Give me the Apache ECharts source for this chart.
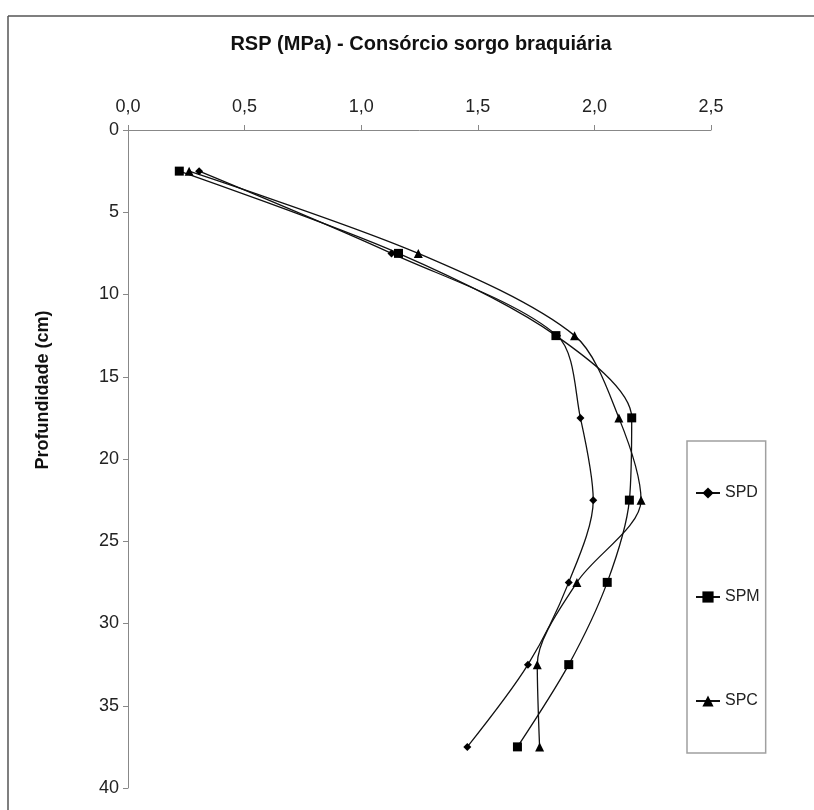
<!DOCTYPE html>
<html>
<head>
<meta charset="utf-8">
<script src="https://cdn.jsdelivr.net/npm/echarts@6/dist/echarts.min.js"></script>
<style>
  html, body { margin: 0; padding: 0; background: #fff; }
  #chart { width: 814px; height: 810px; }
</style>
</head>
<body>
<div id="chart"></div>
<script>
// profundidade (cm)
const depths = [2.5, 7.5, 12.5, 17.5, 22.5, 27.5, 32.5, 37.5];
// RSP (MPa) por tratamento
const spd = [0.305, 1.13, 1.84, 1.94, 1.995, 1.89, 1.715, 1.455];
const spm = [0.22, 1.16, 1.835, 2.16, 2.15, 2.055, 1.89, 1.67];
const spc = [0.262, 1.245, 1.915, 2.105, 2.2, 1.925, 1.755, 1.765];
const seriesNames = ['SPD', 'SPM', 'SPC'];
const symbols = ['diamond', 'rect', 'triangle'];
const symbolSizes = [8, 9, 9];

const chart = echarts.init(document.getElementById('chart'));

// monta pares [x, y] para cada serie
function pairs(values) {
  return values.map((v, i) => [v, depths[i]]);
}

const series = [spd, spm, spc].map((vals, i) => ({
  name: seriesNames[i],
  type: 'line',
  data: pairs(vals),
  smooth: 0.3,
  symbol: symbols[i],
  symbolSize: symbolSizes[i],
  itemStyle: { color: '#000' },
  lineStyle: { color: '#111', width: 1.3 }
}));

const fontFamily = 'Liberation Sans, Arial, sans-serif';
const labelStyle = { color: '#222', fontSize: 18, fontFamily: fontFamily };

chart.setOption({
  backgroundColor: '#fff',
  animation: false,
  title: {
    text: 'RSP (MPa) - Consórcio sorgo braquiária',
    left: 416,
    textAlign: 'center',
    top: 29,
    textStyle: { fontSize: 20, fontWeight: 'bold', color: '#111', fontFamily: fontFamily }
  },
  legend: {
    orient: 'vertical',
    left: 687,
    top: 441,
    data: seriesNames,
    itemWidth: 24,
    itemHeight: 14,
    itemGap: 88,
    padding: [44, 6, 44, 8],
    borderColor: '#a0a0a0',
    borderWidth: 1.5,
    textStyle: { color: '#222', fontSize: 16, fontFamily: fontFamily }
  },
  grid: { left: 128, top: 130, width: 583, height: 658 },
  xAxis: {
    type: 'value',
    position: 'top',
    min: 0,
    max: 2.5,
    interval: 0.5,
    axisLine: { show: true, lineStyle: { color: '#888', width: 1 } },
    axisTick: { show: true, length: 5, lineStyle: { color: '#888' } },
    splitLine: { show: false },
    axisLabel: Object.assign({ margin: 14, formatter: v => v.toFixed(1).replace('.', ',') }, labelStyle)
  },
  yAxis: {
    type: 'value',
    inverse: true,
    min: 0,
    max: 40,
    interval: 5,
    axisLine: { show: true, onZero: false, lineStyle: { color: '#888', width: 1 } },
    axisTick: { show: true, length: 5, lineStyle: { color: '#888' } },
    splitLine: { show: false },
    axisLabel: Object.assign({ margin: 9 }, labelStyle)
  },
  graphic: [
    // moldura (apenas topo e esquerda visiveis)
    { type: 'line', shape: { x1: 8, y1: 16, x2: 814, y2: 16 }, style: { stroke: '#555', lineWidth: 1.5 } },
    { type: 'line', shape: { x1: 8, y1: 16, x2: 8, y2: 810 }, style: { stroke: '#555', lineWidth: 1.5 } },
    {
      type: 'text',
      x: 43,
      y: 390,
      rotation: Math.PI / 2,
      style: {
        text: 'Profundidade (cm)',
        fill: '#111',
        font: 'bold 18px "Liberation Sans", Arial, sans-serif',
        textAlign: 'center',
        textVerticalAlign: 'middle'
      }
    }
  ],
  series: series
});
</script>
</body>
</html>
